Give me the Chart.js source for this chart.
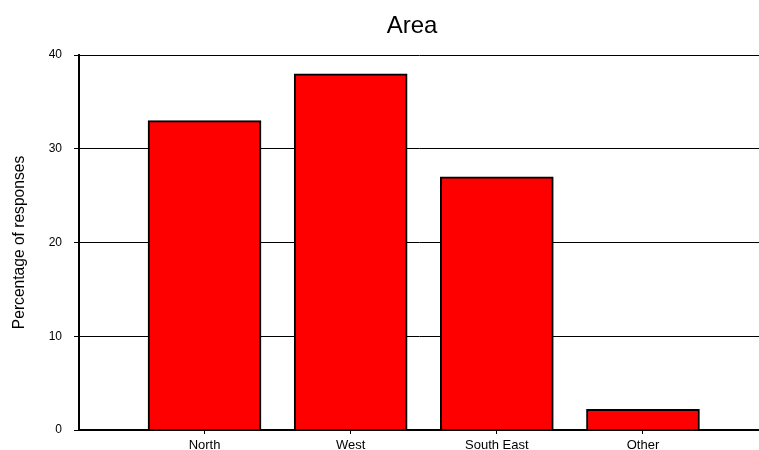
<!DOCTYPE html>
<html>
<head>
<meta charset="utf-8">
<script src="https://cdn.jsdelivr.net/npm/chart.js@4"></script>
<style>
  html, body { margin: 0; padding: 0; background: #ffffff; }
  canvas { display: block; }
</style>
</head>
<body>
<canvas id="chart" width="759" height="450"></canvas>
<script>
// Survey responses by area
const categories = ['North', 'West', 'South East', 'Other'];
const percentages = [33, 38, 27, 2.2];
const yTicks = [0, 10, 20, 30, 40];
const chartTitle = 'Area';
const yAxisTitle = 'Percentage of responses';

const FONT = '"Liberation Sans", Arial, sans-serif';

// Title drawn centred above the plot area
const titlePlugin = {
  id: 'areaTitle',
  afterDraw(chart) {
    const ctx = chart.ctx;
    ctx.save();
    ctx.font = '24px ' + FONT;
    ctx.fillStyle = '#000000';
    ctx.textAlign = 'center';
    ctx.textBaseline = 'alphabetic';
    ctx.fillText(chartTitle, 412, 33);
    ctx.restore();
  }
};

new Chart(document.getElementById('chart'), {
  type: 'bar',
  data: {
    datasets: [{
      data: categories.map((c, i) => ({ x: i, y: percentages[i] })),
      backgroundColor: '#ff0000',
      borderColor: '#000000',
      borderWidth: 2,
      barThickness: 113
    }]
  },
  options: {
    responsive: false,
    animation: false,
    events: [],
    layout: { padding: { top: 55, right: 0, bottom: 0, left: 0 } },
    plugins: {
      legend: { display: false },
      title: { display: false },
      tooltip: { enabled: false }
    },
    scales: {
      x: {
        type: 'linear',
        offset: false,
        min: -0.859,
        max: 3.794,
        afterBuildTicks(scale) {
          scale.ticks = categories.map((c, i) => ({ value: i }));
        },
        afterFit(scale) { scale.height = 20; },
        grid: {
          offset: false,
          drawOnChartArea: false,
          drawTicks: true,
          tickLength: 4,
          color: '#000000',
          lineWidth: 1
        },
        border: { display: true, color: '#000000', width: 2 },
        ticks: {
          autoSkip: false,
          maxRotation: 0,
          padding: 4,
          color: '#000000',
          font: { family: FONT, size: 13 },
          callback: (v) => categories[v]
        }
      },
      y: {
        min: yTicks[0],
        max: yTicks[yTicks.length - 1],
        afterBuildTicks(scale) {
          scale.ticks = yTicks.map(v => ({ value: v }));
        },
        afterFit(scale) { scale.width = 79; },
        grid: {
          color: '#000000',
          lineWidth: 1,
          drawTicks: true,
          tickLength: 5
        },
        border: { display: true, color: '#000000', width: 2 },
        ticks: {
          padding: 12,
          color: '#000000',
          font: { family: FONT, size: 12 }
        },
        title: {
          display: true,
          text: yAxisTitle,
          color: '#000000',
          font: { family: FONT, size: 15.6 },
          padding: { top: 10, bottom: 0 }
        }
      }
    }
  },
  plugins: [titlePlugin]
});
</script>
</body>
</html>
